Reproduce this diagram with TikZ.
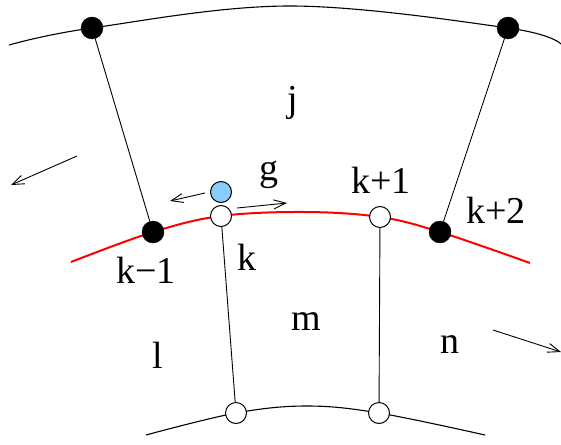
\documentclass[tikz,border=0pt]{standalone}
\usepackage{fontspec}
\setmainfont{Liberation Serif}
\usetikzlibrary{arrows.meta,backgrounds}
\definecolor{skyfill}{RGB}{135,206,250}
\begin{document}
\begin{tikzpicture}[x=1pt,y=-1pt,
  lbl/.style={font=\fontsize{38}{40}\selectfont, anchor=base, inner sep=0pt},
  bdot/.style={circle, fill=black, draw=black, minimum size=22pt, inner sep=0pt},
  wdot/.style={circle, fill=white, draw=black, line width=1pt, minimum size=21pt, inner sep=0pt},
  gdot/.style={circle, fill=skyfill, draw=black, line width=1pt, minimum size=21pt, inner sep=0pt},
  arc/.style={line width=1.1pt},
  redarc/.style={line width=2pt, red},
  edge/.style={line width=0.9pt},
  flow/.style={line width=0.9pt, -{Straight Barb[length=12pt,width=9pt]}}]
\useasboundingbox (0,0) rectangle (561,444);

% nodes
\node[bdot] (A) at (92,28) {};
\node[bdot] (B) at (508,28) {};
\node[bdot] (km1) at (153,232) {};
\node[bdot] (kp2) at (440,232) {};
\node[wdot] (k) at (221,216) {};
\node[wdot] (kp1) at (380,217) {};
\node[gdot] (g) at (221,192) {};
\node[wdot] (bl) at (236,413) {};
\node[wdot] (br) at (379,413) {};

% arc end points
\coordinate (t0) at (9,45);
\coordinate (tm) at (290,6);
\coordinate (t1) at (561,44);
\coordinate (r0) at (71,262);
\coordinate (rm) at (305,212);
\coordinate (r1) at (530,263);
\coordinate (b0) at (146,435);
\coordinate (bm) at (307,406);
\coordinate (b1) at (485,435);

\begin{pgfonlayer}{background}
  \draw[arc] plot[smooth, tension=0.6] coordinates {(t0) (A.center) (tm) (B.center) (t1)};
  \draw[redarc] plot[smooth, tension=0.6] coordinates {(r0) (km1.center) (k.center) (rm) (kp1.center) (kp2.center) (r1)};
  \draw[arc] plot[smooth, tension=0.6] coordinates {(b0) (bl.center) (bm) (br.center) (b1)};
\end{pgfonlayer}

% connectors
\draw[edge] (A) -- (km1);
\draw[edge] (B) -- (kp2);
\draw[edge] (k) -- (bl);
\draw[edge] (kp1) -- (br);

% flow arrows
\coordinate (fa0) at (77,156);
\coordinate (fa1) at (11,185);
\coordinate (fb0) at (493,330);
\coordinate (fb1) at (561,352);
\coordinate (ga0) at (205,193);
\coordinate (ga1) at (170,201);
\coordinate (gb0) at (237,208);
\coordinate (gb1) at (287,203);
\draw[flow] (fa0) -- (fa1);
\draw[flow] (fb0) -- (fb1);
\draw[flow] (ga0) -- (ga1);
\draw[flow] (gb0) -- (gb1);

% labels
\node[lbl] (lj) at (293,111) {j};
\node[lbl] (lg) at (269,180) {g};
\node[lbl] (lkp1) at (381,193) {k+1};
\node[lbl] (lkp2) at (496,223) {k+2};
\node[lbl] (lkm1) at (146,283) {k−1};
\node[lbl] (lk) at (247,270) {k};
\node[lbl] (lm) at (306,330) {m};
\node[lbl] (ll) at (158,368) {l};
\node[lbl] (ln) at (450,353) {n};
\end{tikzpicture}
\end{document}
